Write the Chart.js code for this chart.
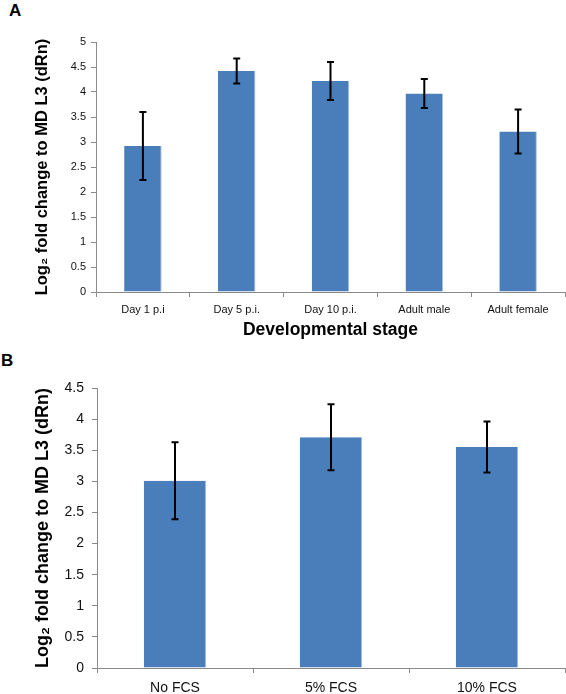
<!DOCTYPE html>
<html>
<head>
<meta charset="utf-8">
<script src="https://cdn.jsdelivr.net/npm/chart.js@4"></script>
<style>
  body { margin: 0; background: #fff; width: 566px; height: 694px; position: relative; overflow: hidden; font-family: 'Liberation Sans', Arial, sans-serif; }
  canvas { position: absolute; left: 0; }
  #chartA { top: 0; }
  #chartB { top: 360px; }
  .panel { position: absolute; font-weight: bold; font-size: 17px; }
</style>
</head>
<body>
<div class="panel" style="left:9px; top:1px;">A</div>
<div class="panel" style="left:1px; top:351px;">B</div>
<canvas id="chartA" width="566" height="345"></canvas>
<canvas id="chartB" width="566" height="334"></canvas>
<script>
// Panel A - developmental stages
const stagesA = ['Day 1 p.i', 'Day 5 p.i.', 'Day 10 p.i.', 'Adult male', 'Adult female'];
const meanA = [2.92, 4.42, 4.22, 3.97, 3.21];
const errA = [0.68, 0.25, 0.38, 0.29, 0.44];

// Panel B - serum conditions
const serumB = ['No FCS', '5% FCS', '10% FCS'];
const meanB = [3.01, 3.71, 3.55];
const errB = [0.62, 0.53, 0.41];

const yTitle = 'Log\u2082 fold change to MD L3 (dRn)';
const barColor = '#4a7ebb';
const axisColor = '#8a8a8a';
const fontFam = "'Liberation Sans', Arial, sans-serif";

// draws +/- error bars on top of the bars using the y scale
const errorBars = {
  id: 'errorBars',
  afterDatasetsDraw(chart, args, opts) {
    const ctx = chart.ctx;
    const y = chart.scales.y;
    const vals = chart.data.datasets[0].data;
    const bars = chart.getDatasetMeta(0).data;
    ctx.save();
    ctx.strokeStyle = '#000';
    ctx.lineWidth = 2;
    bars.forEach((bar, i) => {
      const top = y.getPixelForValue(vals[i] + opts.errors[i]);
      const bot = y.getPixelForValue(vals[i] - opts.errors[i]);
      ctx.beginPath();
      ctx.moveTo(bar.x, top);
      ctx.lineTo(bar.x, bot);
      ctx.moveTo(bar.x - 3.5, top);
      ctx.lineTo(bar.x + 3.5, top);
      ctx.moveTo(bar.x - 3.5, bot);
      ctx.lineTo(bar.x + 3.5, bot);
      ctx.stroke();
    });
    ctx.restore();
  }
};

function makeChart(id, labels, values, errors, opt) {
  return new Chart(document.getElementById(id), {
    type: 'bar',
    data: {
      labels: labels,
      datasets: [{
        data: values,
        backgroundColor: barColor,
        borderColor: '#a7bfe0',
        borderWidth: { right: 1 },
        barPercentage: 0.4,
        categoryPercentage: 1
      }]
    },
    plugins: [errorBars],
    options: {
      responsive: false,
      animation: false,
      layout: { padding: { top: opt.padTop, right: 1, left: 0, bottom: 0 } },
      plugins: {
        legend: { display: false },
        tooltip: { enabled: false },
        errorBars: { errors: errors }
      },
      scales: {
        x: {
          afterFit: s => { s.height = opt.xHeight; },
          grid: { drawOnChartArea: false, color: axisColor, tickLength: 5, tickColor: axisColor },
          border: { color: axisColor },
          ticks: { color: '#111', padding: opt.xPad, font: { family: fontFam, size: opt.xFont } },
          title: {
            display: !!opt.xTitle,
            text: opt.xTitle || '',
            color: '#000',
            padding: { top: 0, bottom: 4 },
            font: { family: fontFam, size: 17.5, weight: 'bold' }
          }
        },
        y: {
          min: 0,
          max: opt.yMax,
          afterFit: s => { s.width = opt.yWidth; },
          grid: { drawOnChartArea: false, color: axisColor, tickLength: 5, tickColor: axisColor },
          border: { color: axisColor },
          ticks: {
            stepSize: 0.5,
            color: '#111',
            padding: opt.yPad,
            font: { family: fontFam, size: opt.yFont },
            callback: v => String(v)
          },
          title: {
            display: true,
            text: yTitle,
            color: '#000',
            padding: { top: opt.yTitlePad, bottom: 0 },
            font: { family: fontFam, size: opt.yTitleFont, weight: 'bold' }
          }
        }
      }
    }
  });
}

makeChart('chartA', stagesA, meanA, errA, {
  padTop: 42, xHeight: 53, xPad: 6, xFont: 11, xTitle: 'Developmental stage',
  yMax: 5, yWidth: 96, yPad: 5, yFont: 11, yTitlePad: 33, yTitleFont: 16.5
});

makeChart('chartB', serumB, meanB, errB, {
  padTop: 28, xHeight: 26, xPad: 7, xFont: 14, xTitle: null,
  yMax: 4.5, yWidth: 97, yPad: 8, yFont: 14, yTitlePad: 32, yTitleFont: 18
});
</script>
</body>
</html>
